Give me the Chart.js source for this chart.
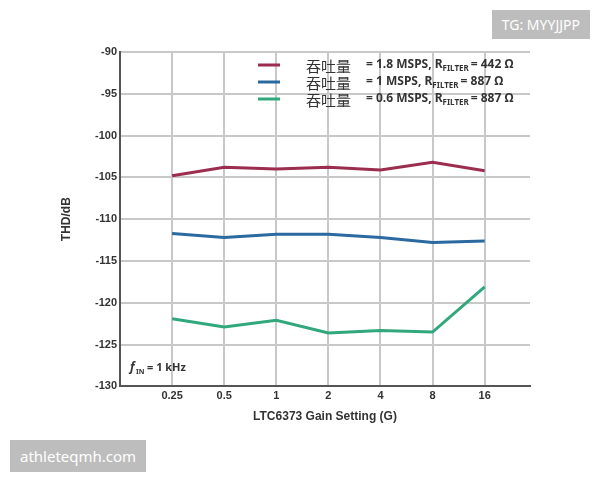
<!DOCTYPE html>
<html>
<head>
<meta charset="utf-8">
<script src="https://cdn.jsdelivr.net/npm/chart.js"></script>
<style>
  body { margin: 0; background: #fff; font-family: "Noto Sans", sans-serif; }
  #wrap { position: relative; width: 600px; height: 480px; }
  .tag { position: absolute; background: #bdbdbd; color: #fff; font-size: 14px; padding: 5px 10px; }
</style>
</head>
<body>
<div id="wrap">
  <canvas id="grafico" width="600" height="480"></canvas>
  <div class="tag" style="right:10px; top:10px;">TG: MYYJJPP</div>
  <div class="tag" style="left:10px; top:440px; font-size:15px; padding:6px 10px;">athleteqmh.com</div>
</div>
<script>
let ganhos = ['0.25', '0.5', '1', '2', '4', '8', '16'];
let thd18 = [-104.8, -103.8, -104.0, -103.8, -104.1, -103.2, -104.2];
let thd1 = [-111.7, -112.2, -111.8, -111.8, -112.2, -112.8, -112.6];
let thd06 = [-121.9, -122.9, -122.1, -123.6, -123.3, -123.5, -118.1];
let legendas = [
  { cor: '#9b2d4f', taxa: '= 1.8 MSPS, R', res: '= 442 Ω' },
  { cor: '#2a6aa0', taxa: '= 1 MSPS, R', res: '= 887 Ω' },
  { cor: '#31a87c', taxa: '= 0.6 MSPS, R', res: '= 887 Ω' }
];

function pontos(vals) {
  return vals.map((v, i) => ({ x: i + 1, y: v }));
}

// legenda e anotação desenhadas à mão (subscritos)
const extras = {
  id: 'extras',
  afterDraw(chart) {
    const ctx = chart.ctx;
    ctx.save();
    legendas.forEach((l, i) => {
      let y = 65 + i * 17;
      ctx.strokeStyle = l.cor; ctx.lineWidth = 3;
      ctx.beginPath(); ctx.moveTo(258, y); ctx.lineTo(280, y); ctx.stroke();
      ctx.fillStyle = '#333'; ctx.textBaseline = 'middle';
      ctx.font = '15px "Noto Sans CJK SC"';
      ctx.fillText('吞吐量', 306, y + 1);
      ctx.font = 'bold 12px "Noto Sans"';
      let x = 366;
      ctx.fillText(l.taxa, x, y);
      x += ctx.measureText(l.taxa).width;
      ctx.font = 'bold 8px "Noto Sans"';
      ctx.fillText('FILTER', x, y + 4);
      x += ctx.measureText('FILTER').width + 2;
      ctx.font = 'bold 12px "Noto Sans"';
      ctx.fillText(l.res, x, y);
    });
    ctx.fillStyle = '#333';
    ctx.font = 'italic bold 12px "Noto Sans"';
    ctx.fillText('f', 130, 368);
    ctx.font = 'bold 7px "Noto Sans"';
    ctx.fillText('IN', 136, 372);
    ctx.font = 'bold 11px "Noto Sans"';
    ctx.fillText('= 1 kHz', 147, 368);
    ctx.restore();
  }
};

function serie(vals, cor) {
  return { data: pontos(vals), borderColor: cor, borderWidth: 3, pointRadius: 0, fill: false, tension: 0 };
}

new Chart(document.getElementById('grafico'), {
  type: 'line',
  data: {
    datasets: [
      serie(thd18, legendas[0].cor),
      serie(thd1, legendas[1].cor),
      serie(thd06, legendas[2].cor)
    ]
  },
  options: {
    responsive: false,
    animation: false,
    layout: { padding: { left: 55, top: 52, right: 70, bottom: 52 } },
    plugins: { legend: { display: false }, tooltip: { enabled: false } },
    scales: {
      x: {
        type: 'linear', min: 0, max: 7.87,
        afterBuildTicks: axis => { axis.ticks = [0, 1, 2, 3, 4, 5, 6, 7].map(v => ({ value: v })); },
        ticks: {
          color: '#333', font: { weight: 'bold', size: 11 },
          callback: v => (v >= 1 && v <= 7 ? ganhos[v - 1] : '')
        },
        grid: { color: '#c8c8c8', lineWidth: 2, drawTicks: false },
        border: { color: '#555', width: 2 },
        title: { display: true, text: 'LTC6373 Gain Setting (G)', color: '#333', font: { weight: 'bold', size: 12 } }
      },
      y: {
        min: -130, max: -90,
        afterFit: axis => { axis.width = 65; },
        ticks: { stepSize: 5, color: '#333', font: { weight: 'bold', size: 11 } },
        grid: { color: '#c8c8c8', lineWidth: 2, drawTicks: false },
        border: { color: '#555', width: 2 },
        title: { display: true, text: 'THD/dB', color: '#333', font: { weight: 'bold', size: 12 } }
      }
    }
  },
  plugins: [extras]
});
</script>
</body>
</html>
